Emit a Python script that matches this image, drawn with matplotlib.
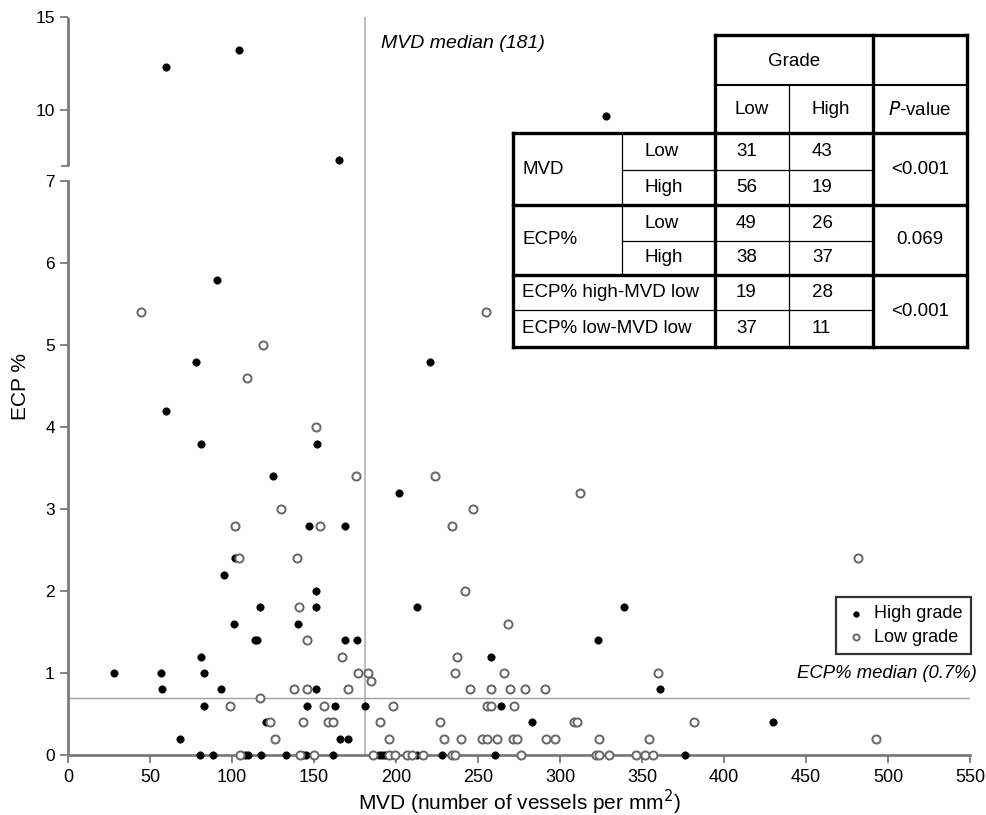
'''
ECP% vs MVD scatter with broken y axis and summary table
'''

import numpy as np
import matplotlib
matplotlib.use('Agg')
import matplotlib.pyplot as plt

plt.rcParams['font.family'] = ['Liberation Sans', 'DejaVu Sans']

# high grade tumours (filled)
high_x = [60, 104, 328, 165,
          91, 78, 60, 81, 221, 152, 125, 202,
          147, 169, 95, 102, 101, 151, 151, 117, 140, 114, 115.5,
          169, 176, 213, 258, 323, 339,
          28, 57, 57.5, 68, 81, 83, 83, 93, 151, 146, 163, 181, 121, 166, 171, 264, 283, 361, 430,
          80.5, 88.6, 108, 110, 117.5, 133, 143.5, 145, 161.5, 189.5, 191.5, 193.5, 213, 228, 260.5, 376.5]
high_y = [12.3, 13.2, 9.7, 7.3,
          5.8, 4.8, 4.2, 3.8, 4.8, 3.8, 3.4, 3.2,
          2.8, 2.8, 2.2, 2.4, 1.6, 2.0, 1.8, 1.8, 1.6, 1.4, 1.4,
          1.4, 1.4, 1.8, 1.2, 1.4, 1.8,
          1.0, 1.0, 0.8, 0.2, 1.2, 1.0, 0.6, 0.8, 0.8, 0.6, 0.6, 0.6, 0.4, 0.2, 0.2, 0.6, 0.4, 0.8, 0.4,
          0, 0, 0, 0, 0, 0, 0, 0, 0, 0, 0, 0, 0, 0, 0, 0]

# low grade tumours (open)
low_x = [44.5, 119, 109, 151, 175.6, 224, 255, 312, 130, 101.6, 153.7, 234, 247, 104.5, 139.4, 482,
         242, 141, 145.5, 268, 167, 237, 177, 183, 185, 236, 266, 360,
         138, 145.5, 171, 245, 257.7, 269.3, 278.7, 291,
         117,
         99, 156, 198, 255.3, 258.1, 272.2,
         123, 143, 158.7, 161.8, 190, 227, 308.5, 310.6, 381.5,
         126, 196, 229, 239.6, 252.2, 255.3, 261.5, 271.6, 273.6, 291.5, 297, 323.5, 354, 492.7,
         105, 141.5, 150, 186, 196, 199.5, 206.5, 209.5, 216.7, 234, 236, 276, 322, 324, 330, 346.3, 352, 356.5]
low_y = [5.4, 5.0, 4.6, 4.0, 3.4, 3.4, 5.4, 3.2, 3.0, 2.8, 2.8, 2.8, 3.0, 2.4, 2.4, 2.4,
         2.0, 1.8, 1.4, 1.6, 1.2, 1.2, 1.0, 1.0, 0.9, 1.0, 1.0, 1.0,
         0.8, 0.8, 0.8, 0.8, 0.8, 0.8, 0.8, 0.8,
         0.7,
         0.6, 0.6, 0.6, 0.6, 0.6, 0.6,
         0.4, 0.4, 0.4, 0.4, 0.4, 0.4, 0.4, 0.4, 0.4,
         0.2, 0.2, 0.2, 0.2, 0.2, 0.2, 0.2, 0.2, 0.2, 0.2, 0.2, 0.2, 0.2, 0.2,
         0, 0, 0, 0, 0, 0, 0, 0, 0, 0, 0, 0, 0, 0, 0, 0, 0, 0]

mvd_median = 181
ecp_median = 0.7

yticks = [0, 1, 2, 3, 4, 5, 6, 7, 10, 15]
xticks = list(range(0, 551, 50))

# table contents
grade_cols = ['Low', 'High']
mvd_counts = [[31, 43], [56, 19]]
ecp_counts = [[49, 26], [38, 37]]
combo_labels = ['ECP% high-MVD low', 'ECP% low-MVD low']
combo_counts = [[19, 28], [37, 11]]
pvals = ['<0.001', '0.069', '<0.001']

# broken axis: linear up to 7, compressed above
BRK = 7.0
GAP = 0.19
C = 0.227


def fwd(y):
    y = np.asarray(y, dtype=float)
    return np.where(y <= BRK, y, BRK + GAP + (y - BRK) * C)


def inv(t):
    t = np.asarray(t, dtype=float)
    return np.where(t <= BRK, t, np.where(t < BRK + GAP, BRK, BRK + (t - BRK - GAP) / C))


fig = plt.figure(figsize=(9.86, 8.15), dpi=100)
ax = fig.add_axes([68/986, 1-755/815, 902/986, 738/815])
ax.set_yscale('function', functions=(fwd, inv))

axcol = '#7a7a7a'
ax.axvline(mvd_median, color='#b8b8b8', lw=1.3, zorder=1)
ax.axhline(ecp_median, color='#a0a0a0', lw=1.0, zorder=1)

ax.scatter(high_x, high_y, s=28, c='black', edgecolors='black', linewidths=0.5,
           label='High grade', zorder=3, clip_on=False)
ax.scatter(low_x, low_y, s=34, facecolors='white', edgecolors='#666666', linewidths=1.4,
           label='Low grade', zorder=3, clip_on=False)

ax.set_xlim(0, 550)
ax.set_ylim(0, 15)
ax.set_xticks(xticks)
ax.set_yticks(yticks)
ax.set_yticklabels([str(v) for v in yticks])
ax.yaxis.set_minor_locator(matplotlib.ticker.NullLocator())
ax.tick_params(axis='both', length=6, width=1.3, color=axcol, direction='out')
ax.tick_params(axis='x', labelsize=13, pad=4)
ax.tick_params(axis='y', labelsize=12.5)

for s in ['top', 'right']:
    ax.spines[s].set_visible(False)
ax.spines['bottom'].set_color(axcol)
ax.spines['bottom'].set_linewidth(2)
ax.spines['left'].set_color(axcol)
ax.spines['left'].set_linewidth(2)
ax.spines['left'].set_bounds(0, 7)
# upper part of the broken axis
ax.plot([0, 0], [7.0001, 15], color=axcol, lw=2, transform=ax.get_yaxis_transform(),
        clip_on=False, solid_capstyle='butt')
ax.plot([-0.0065, 0], [7.0001, 7.0001], color=axcol, lw=1.3, transform=ax.get_yaxis_transform(),
        clip_on=False)

ax.set_xlabel('MVD (number of vessels per mm$^2$)', fontsize=15)
ax.set_ylabel('ECP %', fontsize=15)
ax.xaxis.set_label_coords(0.5, -0.044)
ax.yaxis.set_label_coords(-0.042, 0.5)

ax.text(191, 13.57, 'MVD median (181)', style='italic', fontsize=14, va='center')
ax.text(554, 0.99, 'ECP% median (0.7%)', style='italic', fontsize=13.3, va='center', ha='right',
        clip_on=False)

leg = ax.legend(loc='lower right', bbox_to_anchor=(1.001, 0.137), fontsize=13, markerscale=0.75,
                frameon=True, fancybox=False, handletextpad=0.35, borderpad=0.45,
                labelspacing=0.35, handlelength=1.3, borderaxespad=0)
leg.get_frame().set_edgecolor('black')
leg.get_frame().set_linewidth(1.6)

# table overlay drawn in pixel coords
tx = fig.add_axes([0, 0, 1, 1], zorder=5)
tx.set_xlim(0, 986)
tx.set_ylim(815, 0)
tx.axis('off')
tx.patch.set_alpha(0)

tx.fill([715, 967, 967, 715], [35, 35, 133, 133], color='white', zorder=0)
tx.fill([513, 967, 967, 513], [133, 133, 347, 347], color='white', zorder=0)

thick = 2.4
thin = 0.9
med = 1.5


def hl(y, x0, x1, lw):
    tx.plot([x0, x1], [y, y], color='black', lw=lw, solid_capstyle='projecting')


def vl(x, y0, y1, lw):
    tx.plot([x, x], [y0, y1], color='black', lw=lw, solid_capstyle='projecting')


hl(35, 715, 967, thick)
hl(85, 715, 967, med)
hl(133, 513, 967, thick)
hl(170, 622, 873, thin)
hl(205, 513, 967, thick)
hl(241, 622, 873, thin)
hl(275, 513, 967, thick)
hl(310, 513, 873, thin)
hl(347, 513, 967, thick)
vl(513, 133, 347, thick)
vl(622, 133, 275, thin)
vl(715, 35, 347, thick)
vl(789, 85, 347, thin)
vl(873, 35, 347, thick)
vl(967, 35, 347, thick)

fs = 13.5
tx.text(794, 61, 'Grade', ha='center', va='center', fontsize=fs)
tx.text(752, 110, grade_cols[0], ha='center', va='center', fontsize=fs)
tx.text(831, 110, grade_cols[1], ha='center', va='center', fontsize=fs)
tx.text(920, 110, '$P$-value', ha='center', va='center', fontsize=fs)

block_rows = [(133, 170, 205), (205, 241, 275)]
for (top, mid, bot), name, counts, p in zip(block_rows, ['MVD', 'ECP%'],
                                            [mvd_counts, ecp_counts], pvals[:2]):
    tx.text(522, (top + bot) / 2, name, va='center', fontsize=fs)
    for (r0, r1), sub, row in zip([(top, mid), (mid, bot)], ['Low', 'High'], counts):
        yc = (r0 + r1) / 2
        tx.text(645, yc, sub, va='center', fontsize=fs)
        tx.text(736, yc, str(row[0]), va='center', fontsize=fs)
        tx.text(812, yc, str(row[1]), va='center', fontsize=fs)
    tx.text(920, (top + bot) / 2, p, ha='center', va='center', fontsize=fs)

for (r0, r1), lab, row in zip([(275, 310), (310, 347)], combo_labels, combo_counts):
    yc = (r0 + r1) / 2
    tx.text(522, yc, lab, va='center', fontsize=fs)
    tx.text(736, yc, str(row[0]), va='center', fontsize=fs)
    tx.text(812, yc, str(row[1]), va='center', fontsize=fs)
tx.text(920, 311, pvals[2], ha='center', va='center', fontsize=fs)

fig.savefig('out.png', dpi=100)
